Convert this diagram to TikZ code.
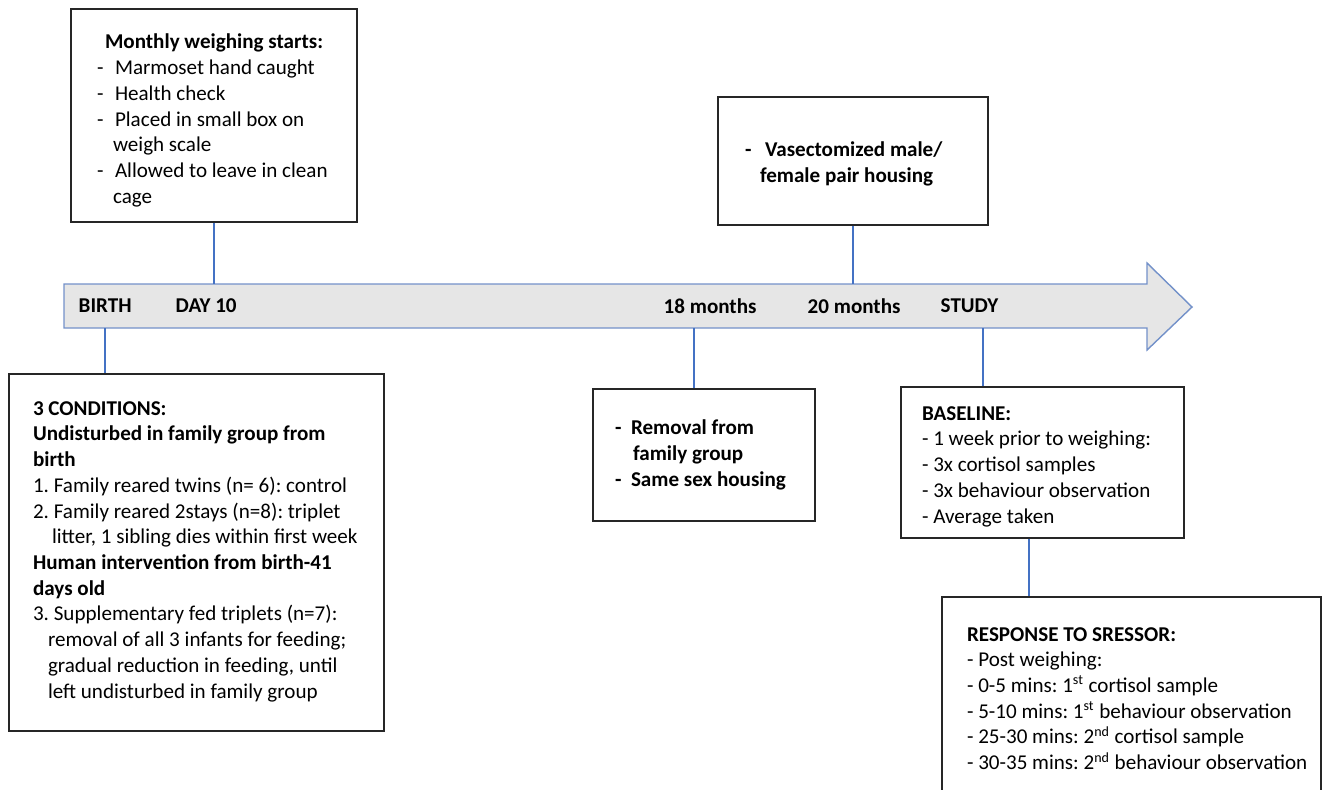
\documentclass[tikz,border=0pt]{standalone}
\usepackage{fontspec}
\setmainfont{Carlito}
\frenchspacing
\definecolor{linkblue}{HTML}{4472C4}
\definecolor{arrowblue}{HTML}{7391C9}
\definecolor{arrowgrey}{HTML}{E6E6E6}
\newcommand{\dashitem}[2][0.36cm]{\makebox[#1][l]{-}#2}
\begin{document}
\begin{tikzpicture}[x=0.02cm, y=-0.02cm,
                    font=\fontsize{12}{14.65}\selectfont,
                    line width=0.8pt,
                    ]
    \tikzstyle{box}=[draw=black!85, line width=0.8pt, inner sep=0pt]
    \tikzstyle{boxtext}=[anchor=west, align=left, inner sep=0pt]
    \tikzstyle{milestone}=[anchor=west, inner sep=0pt, font=\fontsize{12}{14.65}\selectfont\bfseries]
    \tikzstyle{link}=[draw=linkblue, line width=1.4pt]

    \useasboundingbox (0,0) rectangle (1337,789);

    \draw[draw=arrowblue, fill=arrowgrey, line width=0.8pt]
        (64,284) -- (1147,284) -- (1147,263) -- (1192,307) -- (1147,350) -- (1147,328) -- (64,328) -- cycle;
    \coordinate (top) at (0,284);
    \coordinate (bot) at (0,328);
    \coordinate (t18) at (694,328);
    \coordinate (tstudy) at (983,328);

    \node[milestone] (birth) at (78,306) {BIRTH};
    \node[milestone] (dayten) at (175,306) {DAY 10};
    \node[milestone] (m18) at (663,306) {18 months};
    \node[milestone] (m20) at (807,306) {20 months};
    \node[milestone] (study) at (940,306) {STUDY};

    \node[box, minimum width=5.72cm, minimum height=4.26cm] (monthly) at (214,115.5) {};
    \node[boxtext] (monthlytxt) at ([xshift=0.52cm, yshift=-0.1cm]monthly.west) {%
        \hspace*{0.16cm}\textbf{Monthly weighing starts:}\\
        \dashitem{Marmoset hand caught}\\
        \dashitem{Health check}\\
        \dashitem{Placed in small box on}\\
        \hspace*{0.32cm}weigh scale\\
        \dashitem{Allowed to leave in clean}\\
        \hspace*{0.32cm}cage};

    \node[box, minimum width=7.5cm, minimum height=7.14cm] (cond) at (196.5,552.5) {};
    \node[boxtext] (condtxt) at ([xshift=0.48cm, yshift=0.02cm]cond.west) {%
        \textbf{3 CONDITIONS:}\\
        \textbf{Undisturbed in family group from}\\
        \textbf{birth}\\
        1. Family reared twins (n= 6): control\\
        2. Family reared 2stays (n=8): triplet\\
        \hspace*{0.38cm}litter, 1 sibling dies within first week\\
        \textbf{Human intervention from birth-41}\\
        \textbf{days old}\\
        3. Supplementary fed triplets (n=7):\\
        \hspace*{0.3cm}removal of all 3 infants for feeding;\\
        \hspace*{0.3cm}gradual reduction in feeding, until\\
        \hspace*{0.3cm}left undisturbed in family group};

    \node[box, minimum width=4.44cm, minimum height=2.64cm] (removal) at (704,455) {};
    \node[boxtext, font=\fontsize{12}{14.65}\selectfont\bfseries] (removaltxt) at ([xshift=0.44cm]removal.west) {%
        \dashitem[0.32cm]{Removal from}\\
        \hspace*{0.36cm}family group\\
        \dashitem[0.32cm]{Same sex housing}};

    \node[box, minimum width=5.4cm, minimum height=2.56cm] (vasect) at (853,161) {};
    \node[boxtext, font=\fontsize{12}{14.65}\selectfont\bfseries] (vasecttxt) at ([xshift=0.54cm, yshift=-0.06cm]vasect.west) {%
        \dashitem[0.4cm]{Vasectomized male/}\\
        \hspace*{0.3cm}female pair housing};

    \node[box, minimum width=5.66cm, minimum height=3.02cm] (baseline) at (1042.5,462.5) {};
    \node[boxtext] (baselinetxt) at ([xshift=0.42cm, yshift=-0.08cm]baseline.west) {%
        \textbf{BASELINE:}\\
        - 1 week prior to weighing:\\
        - 3x cortisol samples\\
        - 3x behaviour observation\\
        - Average taken};

    \node[box, minimum width=7.58cm, minimum height=4.06cm] (response) at (1131.5,698.5) {};
    \node[boxtext] (responsetxt) at ([xshift=0.5cm]response.west) {%
        \textbf{RESPONSE TO SRESSOR:}\\
        - Post weighing:\\
        - 0-5 mins: 1\textsuperscript{st} cortisol sample\\
        - 5-10 mins: 1\textsuperscript{st} behaviour observation\\
        - 25-30 mins: 2\textsuperscript{nd} cortisol sample\\
        - 30-35 mins: 2\textsuperscript{nd} behaviour observation};

    \path[link] (monthly.south) -- (monthly.south |- top);
    \path[link] (vasect.south) -- (vasect.south |- top);
    \path[link] (birth |- bot) -- (birth |- cond.north);
    \path[link] (t18) -- (t18 |- removal.north);
    \path[link] (tstudy) -- (tstudy |- baseline.north);
    \path[link] ([xshift=-0.27cm]baseline.south) -- ([xshift=-0.27cm]baseline.south |- response.north);
\end{tikzpicture}
\end{document}
